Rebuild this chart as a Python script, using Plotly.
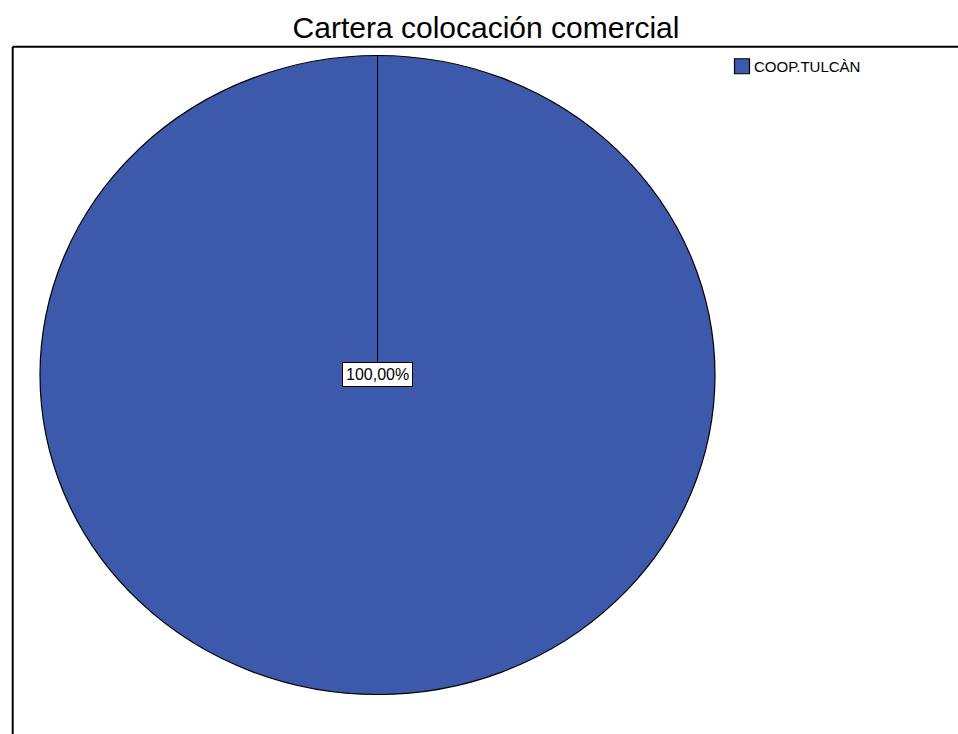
import plotly.graph_objects as go

# Data
categories = ["COOP.TULCÀN"]
values = [100.0]

W, H = 958, 734
pie_color = "#3d59ab"

# Pie geometry in pixels (y measured from top)
cx_px, cy_px = 377.5, 375.0
r_px = 319.5
x_stretch = 337.5 / 319.5

dom_x = [(cx_px - r_px) / W, (cx_px + r_px) / W]
dom_y = [(H - cy_px - r_px) / H, (H - cy_px + r_px) / H]
cx = (dom_x[0] + dom_x[1]) / 2
cy = (dom_y[0] + dom_y[1]) / 2

total = sum(values)
pct_text = "{:.2f}%".format(values[0] / total * 100).replace(".", ",")

fig = go.Figure()
fig.add_trace(go.Pie(
    labels=categories,
    values=values,
    domain=dict(x=dom_x, y=dom_y),
    marker=dict(colors=[pie_color], line=dict(color="black", width=1.2)),
    textinfo="none",
    sort=False,
    direction="clockwise",
    rotation=0,
    hoverinfo="label+percent",
    showlegend=True,
))

# Radial boundary from the centre to the top of the pie
fig.add_shape(type="line", xref="paper", yref="paper",
              x0=cx, y0=cy, x1=cx, y1=dom_y[1],
              line=dict(color="black", width=1))

# Outer frame (top and left edges)
frame_left = 12.7 / W
frame_top = 1 - 46.7 / H
fig.add_shape(type="line", xref="paper", yref="paper",
              x0=frame_left, y0=frame_top, x1=1.02, y1=frame_top,
              line=dict(color="black", width=2))
fig.add_shape(type="line", xref="paper", yref="paper",
              x0=frame_left, y0=frame_top, x1=frame_left, y1=-0.02,
              line=dict(color="black", width=2))

# Percentage label
fig.add_annotation(x=cx, y=cy, xref="paper", yref="paper",
                   text=pct_text, showarrow=False,
                   xanchor="center", yanchor="middle",
                   font=dict(family="Liberation Sans, Arial, sans-serif", size=16, color="black"),
                   bgcolor="white", bordercolor="black", borderwidth=1, borderpad=3)

fig.update_layout(
    width=W, height=H,
    margin=dict(l=0, r=0, t=0, b=0),
    paper_bgcolor="white",
    plot_bgcolor="white",
    title=dict(text="Cartera colocación comercial",
               x=486 / W, y=1 - 27 / H, xanchor="center", yanchor="middle",
               font=dict(family="Liberation Sans, Arial, sans-serif", size=30, color="black")),
    legend=dict(x=(742 - 20) / W, y=1 - 50 / H, xanchor="left", yanchor="top",
                font=dict(family="Liberation Sans, Arial, sans-serif", size=15, color="black"),
                bgcolor="rgba(0,0,0,0)", borderwidth=0),
)

# Widen the pie horizontally about its centre; enlarge the legend swatch
# and pull the legend text closer to it
post = """
var gd = document.getElementById('{plot_id}');
var s = %f, c = %f;
gd.querySelectorAll('.pielayer path.surface').forEach(function(p){
  p.setAttribute('transform', 'translate(' + c + ',0) scale(' + s + ',1) translate(' + (-c) + ',0)');
  p.style.vectorEffect = 'non-scaling-stroke';
});
gd.querySelectorAll('.legend .legendpoints path').forEach(function(p){
  var t = p.getAttribute('transform') || '';
  p.setAttribute('transform', t + ' scale(1.25)');
  p.style.vectorEffect = 'non-scaling-stroke';
});
gd.querySelectorAll('.legend text.legendtext').forEach(function(t){
  t.setAttribute('x', 32);
});
""" % (x_stretch, cx_px)

fig.write_html("out.html", post_script=post)
